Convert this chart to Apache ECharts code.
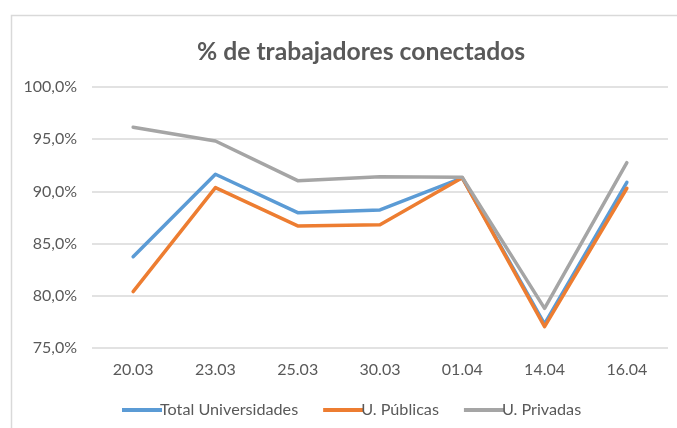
<!DOCTYPE html>
<html><head><meta charset="utf-8">
<script src="https://cdn.jsdelivr.net/npm/echarts@6/dist/echarts.min.js"></script>
<style>html,body{margin:0;padding:0;background:#fff}#c{width:677px;height:428px}</style>
</head><body><div id="c"></div>
<script>
const categories = ['20.03','23.03','25.03','30.03','01.04','14.04','16.04'];
const totalUniv = [83.75, 91.64, 87.96, 88.22, 91.3, 77.3, 90.87];
const publicas = [80.4, 90.36, 86.69, 86.81, 91.3, 77.05, 90.3];
const privadas = [96.14, 94.83, 91.03, 91.41, 91.35, 78.8, 92.75];
const seriesNames = ['Total Universidades','U. Públicas','U. Privadas'];
const colors = ['#5B9BD5','#ED7D31','#A5A5A5'];
const font = 'Lato, sans-serif';
const chart = echarts.init(document.getElementById('c'), null, {renderer:'canvas'});
const mk = (name, data, color) => ({
  name, type:'line', data, symbol:'none', smooth:false,
  lineStyle:{color, width:3.5, cap:'round', join:'round'}, itemStyle:{color},
  emphasis:{disabled:true}
});
chart.setOption({
  animation:false,
  graphic:[{type:'rect', shape:{x:11.5,y:15.5,width:700,height:450}, style:{fill:'none',stroke:'#D9D9D9',lineWidth:1.5}, silent:true}],
  title:{text:'% de trabajadores conectados', left:192, top:35,
    textStyle:{fontFamily:font, fontSize:24.7, fontWeight:'bold', color:'#595959'}},
  grid:{left:92, right:9, top:87, bottom:80, containLabel:false},
  legend:{bottom:5, left:117, itemWidth:40, itemHeight:4, itemGap:25,
    icon:'rect',
    textStyle:{fontFamily:font, fontSize:16.2, color:'#595959', padding:[0,0,0,-7]},
    data:seriesNames},
  xAxis:{type:'category', data:categories, boundaryGap:true,
    axisLine:{show:false}, axisTick:{show:false},
    axisLabel:{fontFamily:font, fontSize:16, color:'#595959', margin:14}},
  yAxis:{type:'value', min:75, max:100, interval:5,
    axisLine:{show:false}, axisTick:{show:false},
    splitLine:{lineStyle:{color:'#D9D9D9', width:1.5}},
    axisLabel:{fontFamily:font, fontSize:16, color:'#595959', margin:15,
      formatter:v=>v.toFixed(1).replace('.',',')+'%'}},
  series:[mk(seriesNames[0], totalUniv, colors[0]), mk(seriesNames[1], publicas, colors[1]), mk(seriesNames[2], privadas, colors[2])]
});
</script></body></html>
